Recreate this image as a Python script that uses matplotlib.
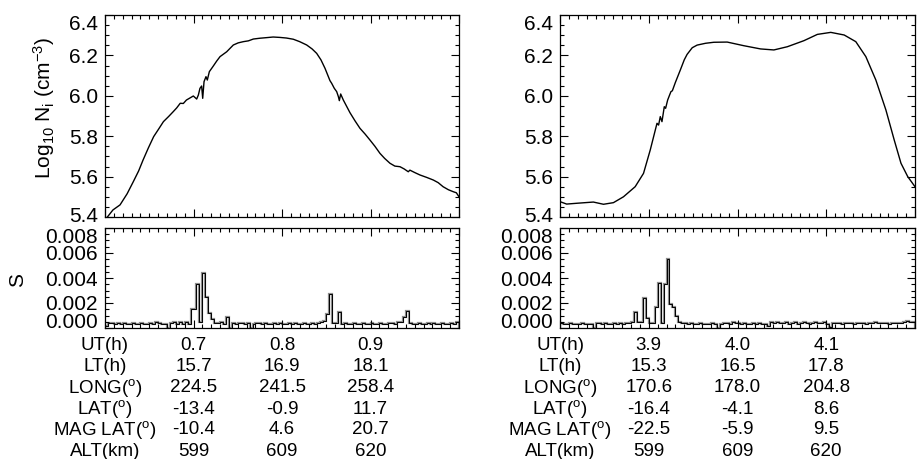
import numpy as np
import matplotlib.pyplot as plt
from matplotlib.ticker import MultipleLocator, AutoMinorLocator
from matplotlib.transforms import blended_transform_factory

plt.rcParams['font.family'] = 'Liberation Sans'
plt.rcParams['mathtext.fontset'] = 'custom'
plt.rcParams['mathtext.rm'] = 'Liberation Sans'
plt.rcParams['mathtext.default'] = 'regular'

# ion density, first pass (UT in hours)
ut_left = [0.600, 0.609, 0.617, 0.625, 0.632, 0.638, 0.643, 0.649, 0.655, 0.661,
           0.666, 0.672, 0.677, 0.681, 0.685, 0.6885, 0.692, 0.6955, 0.6998, 0.7036,
           0.7055, 0.7073, 0.7092, 0.7104, 0.7119, 0.7141, 0.7156, 0.7179, 0.7224, 0.7262,
           0.730, 0.7375, 0.745, 0.7505, 0.7563, 0.762, 0.7676, 0.775, 0.7827, 0.790,
           0.7977, 0.805, 0.8128, 0.820, 0.8279, 0.834, 0.8392, 0.844, 0.8486, 0.8542,
           0.8561, 0.8591, 0.8618, 0.8637, 0.8648, 0.8663, 0.8693, 0.8768, 0.8825, 0.8881,
           0.894, 0.8994, 0.905, 0.9107, 0.916, 0.922, 0.9275, 0.9333, 0.938, 0.9427,
           0.9445, 0.950, 0.9559, 0.9635, 0.971, 0.9765, 0.982, 0.988, 0.9936, 0.997,
           1.000]
ni_left = [5.385, 5.435, 5.46, 5.515, 5.575, 5.628, 5.682, 5.742, 5.798, 5.838,
           5.872, 5.898, 5.921, 5.94, 5.963, 5.962, 5.979, 5.988, 5.999, 5.984,
           6.004, 6.037, 6.0485, 5.9875, 6.07, 6.0947, 6.078, 6.1195, 6.1475, 6.172,
           6.194, 6.218, 6.2515, 6.262, 6.268, 6.272, 6.281, 6.285, 6.288, 6.291,
           6.289, 6.286, 6.280, 6.268, 6.2515, 6.232, 6.21, 6.178, 6.136, 6.075,
           6.062, 6.037, 6.0205, 5.996, 5.976, 6.009, 5.979, 5.9165, 5.876, 5.839,
           5.81, 5.781, 5.75, 5.715, 5.69, 5.666, 5.652, 5.649, 5.638, 5.624,
           5.632, 5.62, 5.608, 5.596, 5.583, 5.57, 5.55, 5.535, 5.525, 5.52,
           5.50]

# ion density, second pass
ut_right = [3.800, 3.8075, 3.819, 3.8376, 3.849, 3.8602, 3.8715, 3.8847, 3.8941, 3.9017,
            3.9093, 3.9111, 3.9130, 3.9149, 3.9175, 3.9190, 3.9213, 3.9235, 3.9250, 3.9266,
            3.9299, 3.9356, 3.9400, 3.9432, 3.9490, 3.9545, 3.9640, 3.9733, 3.9884, 4.0071,
            4.026, 4.041, 4.0562, 4.0749, 4.09, 4.1051, 4.1202, 4.1333, 4.1446, 4.1559,
            4.1672, 4.1766, 4.1842, 4.1918, 4.2000]
ni_right = [5.476, 5.464, 5.468, 5.474, 5.463, 5.471, 5.50, 5.55, 5.616, 5.732,
            5.864, 5.855, 5.897, 5.872, 5.946, 5.938, 5.979, 6.004, 6.0205, 6.025,
            6.065, 6.128, 6.178, 6.205, 6.238, 6.251, 6.260, 6.265, 6.266, 6.248,
            6.232, 6.227, 6.243, 6.273, 6.304, 6.314, 6.301, 6.268, 6.194, 6.078,
            5.93, 5.781, 5.666, 5.60, 5.55]

# S index, 120 equal bins across each window
s_left = [0.0002, 0.0004, 0.0004, 0.0003, 0.0004, 0.0003, 0.0004, 0.0003, 0.0003, 0.0004,
          0.0003, 0.0003, 0.0004, 0.0003, 0.0003, 0.0004, 0.0003, 0.0005, 0.0004, 0.0003,
          0.0003, 0.0000, 0.0004, 0.0005, 0.0003, 0.0005, 0.0003, 0.0005, 0.0003, 0.0015,
          0.0015, 0.0035, 0.0005, 0.0044, 0.0025, 0.0012, 0.0007, 0.0004, 0.0004, 0.0005,
          0.0003, 0.0009, 0.0000, 0.0004, 0.0003, 0.0004, 0.0004, 0.0003, 0.0004, 0.0000,
          0.0003, 0.0004, 0.0004, 0.0003, 0.0004, 0.0003, 0.0003, 0.0004, 0.0003, 0.0004,
          0.0003, 0.0003, 0.0004, 0.0003, 0.0004, 0.0003, 0.0003, 0.0004, 0.0003, 0.0003,
          0.0004, 0.0003, 0.0004, 0.0005, 0.0006, 0.0011, 0.0027, 0.0004, 0.0004, 0.0013,
          0.0003, 0.0004, 0.0003, 0.0003, 0.0004, 0.0003, 0.0003, 0.0004, 0.0003, 0.0003,
          0.0004, 0.0003, 0.0003, 0.0004, 0.0003, 0.0003, 0.0004, 0.0004, 0.0003, 0.0005,
          0.0005, 0.0009, 0.0014, 0.0004, 0.0003, 0.0003, 0.0004, 0.0003, 0.0003, 0.0004,
          0.0003, 0.0004, 0.0003, 0.0003, 0.0004, 0.0003, 0.0003, 0.0004, 0.0003, 0.0005]
s_right = [0.0004, 0.0003, 0.0003, 0.0004, 0.0003, 0.0003, 0.0003, 0.0004, 0.0003, 0.0003,
           0.0003, 0.0000, 0.0004, 0.0004, 0.0003, 0.0004, 0.0003, 0.0003, 0.0004, 0.0003,
           0.0004, 0.0003, 0.0004, 0.0004, 0.0005, 0.0013, 0.0005, 0.0005, 0.0024, 0.0008,
           0.0004, 0.0004, 0.0017, 0.0036, 0.0004, 0.0035, 0.0055, 0.0019, 0.0017, 0.0010,
           0.0005, 0.0004, 0.0004, 0.0003, 0.0004, 0.0003, 0.0003, 0.0004, 0.0003, 0.0003,
           0.0003, 0.0004, 0.0003, 0.0000, 0.0003, 0.0004, 0.0004, 0.0003, 0.0005, 0.0004,
           0.0004, 0.0003, 0.0004, 0.0003, 0.0003, 0.0004, 0.0003, 0.0004, 0.0003, 0.0003,
           0.0002, 0.0005, 0.0004, 0.0005, 0.0004, 0.0004, 0.0005, 0.0003, 0.0004, 0.0005,
           0.0003, 0.0004, 0.0005, 0.0004, 0.0003, 0.0004, 0.0005, 0.0004, 0.0004, 0.0005,
           0.0003, 0.0001, 0.0004, 0.0004, 0.0004, 0.0003, 0.0004, 0.0004, 0.0004, 0.0003,
           0.0004, 0.0004, 0.0004, 0.0003, 0.0004, 0.0004, 0.0005, 0.0004, 0.0004, 0.0004,
           0.0004, 0.0003, 0.0004, 0.0004, 0.0004, 0.0004, 0.0005, 0.0006, 0.0005, 0.0005]

xlim_left = (0.6, 1.0)
xlim_right = (3.8, 4.2)
ut_ticks_left = [0.7, 0.8, 0.9]
ut_ticks_right = [3.9, 4.0, 4.1]

row_names = ['UT(h)', 'LT(h)', 'LONG($^o$)', 'LAT($^o$)', 'MAG LAT($^o$)', 'ALT(km)']
table_left = [['0.7', '0.8', '0.9'],
              ['15.7', '16.9', '18.1'],
              ['224.5', '241.5', '258.4'],
              ['-13.4', '-0.9', '11.7'],
              ['-10.4', '4.6', '20.7'],
              ['599', '609', '620']]
table_right = [['3.9', '4.0', '4.1'],
               ['15.3', '16.5', '17.8'],
               ['170.6', '178.0', '204.8'],
               ['-16.4', '-4.1', '8.6'],
               ['-22.5', '-5.9', '9.5'],
               ['599', '609', '620']]

ni_ticks = [5.4, 5.6, 5.8, 6.0, 6.2, 6.4]
s_ticks = [0.0, 0.002, 0.004, 0.006, 0.008]

W, H = 917, 459
fig = plt.figure(figsize=(W / 100, H / 100), dpi=100)

def px_axes(x0, y0, x1, y1):
    return fig.add_axes([x0 / W, 1 - y1 / H, (x1 - x0) / W, (y1 - y0) / H])

ax_tl = px_axes(105, 15, 459, 217)
ax_bl = px_axes(105, 228, 459, 328)
ax_tr = px_axes(560, 15, 915, 217)
ax_br = px_axes(560, 228, 915, 328)

tick_fs = 15
table_fs = 13.5


def style(ax, xlim, ylim, yticks, fmt, low_va):
    ax.set_xlim(*xlim)
    ax.set_ylim(*ylim)
    ax.xaxis.set_major_locator(MultipleLocator(0.1))
    ax.xaxis.set_minor_locator(MultipleLocator(0.01))
    ax.set_yticks(yticks, [fmt % v for v in yticks])
    ax.yaxis.set_minor_locator(AutoMinorLocator(4))
    ax.tick_params(which='both', direction='in', top=True, right=True,
                   labelbottom=False, width=0.8, labelsize=tick_fs, pad=5)
    ax.tick_params(which='major', length=6)
    ax.tick_params(which='minor', length=3)
    for sp in ax.spines.values():
        sp.set_linewidth(0.9)
    labels = ax.get_yticklabels()
    labels[0].set_va(low_va)
    labels[-1].set_va('top')


for ax, ut, ni, xlim in [(ax_tl, ut_left, ni_left, xlim_left),
                         (ax_tr, ut_right, ni_right, xlim_right)]:
    ax.plot(ut, ni, color='black', lw=1.0)
    style(ax, xlim, (5.4, 6.4), ni_ticks, '%.1f', 'center')

for ax, s, xlim in [(ax_bl, s_left, xlim_left), (ax_br, s_right, xlim_right)]:
    edges = np.linspace(xlim[0], xlim[1], len(s) + 1)
    ax.stairs(s, edges, color='#8c8c8c', lw=1.6)
    ax.stairs(s, edges, color='black', lw=0.7)
    style(ax, xlim, (0.0, 0.008), s_ticks, '%.3f', 'baseline')

ax_tl.set_ylabel('Log$_{10}$ N$_i$ (cm$^{-3}$)', fontsize=15)
ax_tl.yaxis.set_label_coords(-0.135, 0.54)
ax_bl.set_ylabel('S', fontsize=15)
ax_bl.yaxis.set_label_coords(-0.22, 0.48)

row_y = [345, 366.5, 388, 409, 430, 451]
for ax, ticks, table, xlim in [(ax_bl, ut_ticks_left, table_left, xlim_left),
                               (ax_br, ut_ticks_right, table_right, xlim_right)]:
    tr = blended_transform_factory(ax.transData, fig.transFigure)
    for r, name in enumerate(row_names):
        yf = 1 - row_y[r] / H
        ax.text(xlim[0], yf, name, transform=tr, ha='center', va='center',
                fontsize=table_fs)
        for c, t in enumerate(ticks):
            ax.text(t, yf, table[r][c], transform=tr, ha='center', va='center',
                    fontsize=table_fs)

fig.savefig('out.png', dpi=100)
